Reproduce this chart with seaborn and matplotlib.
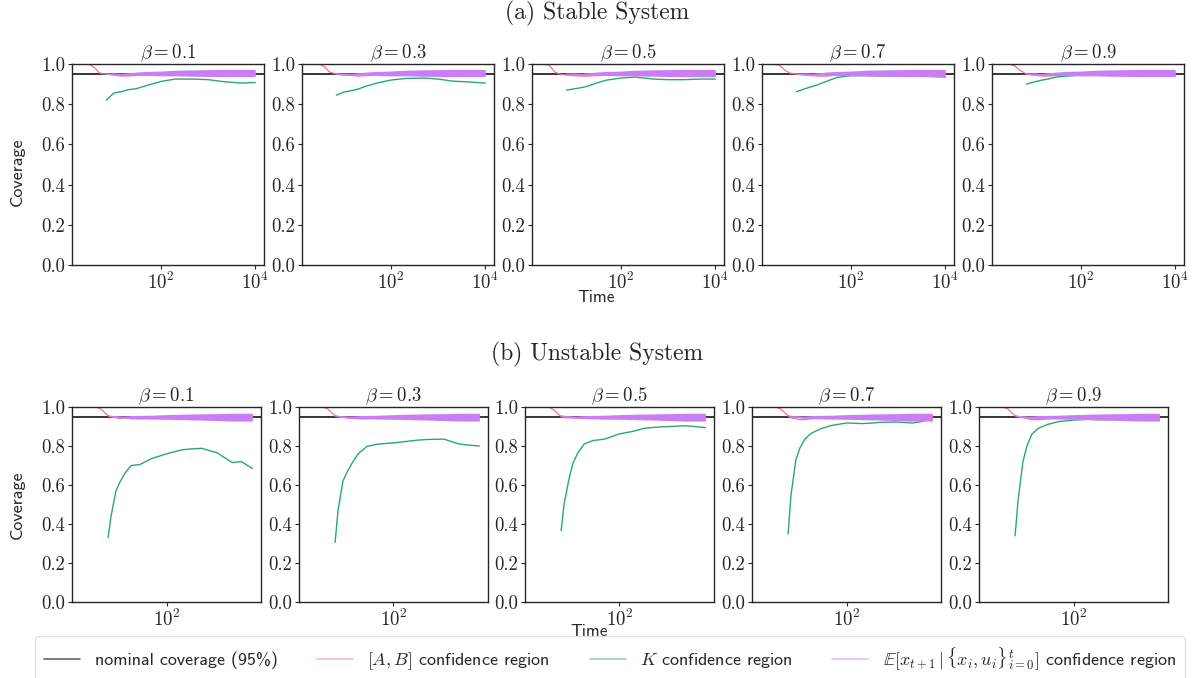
import numpy as np
import pandas as pd
import seaborn as sns
import matplotlib.pyplot as plt
from matplotlib.lines import Line2D
from matplotlib.ticker import NullLocator, FixedLocator

NA = np.nan

# Data

BETAS = [0.1, 0.3, 0.5, 0.7, 0.9]
NOMINAL = 0.95

# stable system, time grid
T_STABLE = [2, 3, 4, 5, 7, 10, 15, 20, 30, 50, 100, 200, 500, 1000, 2000, 5000, 10000]

AB_STABLE = [
    [1.0, 1.0, 0.98, 0.955, 0.95, 0.945, 0.94, 0.94, 0.943, 0.945, 0.948, 0.95, 0.952, 0.952, 0.953, 0.952, 0.952],
    [1.0, 1.0, 0.985, 0.96, 0.95, 0.945, 0.943, 0.94, 0.942, 0.945, 0.948, 0.95, 0.952, 0.952, 0.952, 0.953, 0.952],
    [1.0, 0.995, 0.96, 0.95, 0.945, 0.942, 0.94, 0.94, 0.942, 0.945, 0.948, 0.95, 0.955, 0.955, 0.953, 0.952, 0.952],
    [1.0, 0.995, 0.97, 0.955, 0.95, 0.945, 0.942, 0.94, 0.94, 0.945, 0.948, 0.95, 0.955, 0.955, 0.955, 0.953, 0.952],
    [1.0, 1.0, 0.99, 0.97, 0.95, 0.945, 0.94, 0.94, 0.942, 0.945, 0.948, 0.95, 0.953, 0.955, 0.955, 0.953, 0.952],
]

K_STABLE = [
    [NA, NA, NA, NA, 0.82, 0.855, 0.863, 0.872, 0.877, 0.893, 0.913, 0.925, 0.925, 0.922, 0.913, 0.905, 0.908],
    [NA, NA, NA, NA, 0.845, 0.86, 0.868, 0.875, 0.89, 0.905, 0.92, 0.928, 0.93, 0.925, 0.915, 0.91, 0.905],
    [NA, NA, NA, NA, 0.87, 0.876, 0.883, 0.89, 0.905, 0.92, 0.93, 0.935, 0.925, 0.922, 0.922, 0.925, 0.925],
    [NA, NA, NA, NA, 0.862, 0.875, 0.888, 0.897, 0.913, 0.933, 0.942, 0.942, 0.94, 0.94, 0.94, 0.938, 0.935],
    [NA, NA, NA, NA, 0.9, 0.91, 0.92, 0.925, 0.935, 0.94, 0.945, 0.945, 0.945, 0.945, 0.945, 0.945, 0.945],
]

E_STABLE = [NA, NA, NA, NA, 0.95, 0.95, 0.948, 0.95, 0.952, 0.953, 0.953, 0.955, 0.955, 0.955, 0.955, 0.955, 0.955]
E_STABLE_SPREAD = [0, 0, 0, 0, 0.002, 0.004, 0.005, 0.006, 0.008, 0.01, 0.012, 0.014, 0.016, 0.017, 0.018, 0.018, 0.018]

# unstable system
T_UNSTABLE = [2, 3, 4, 5, 7, 8, 10, 12, 15, 20, 30, 50, 100, 200, 300, 500, 1000, 2000, 3000, 5000]

AB_UNSTABLE = [
    [1.0, 1.0, 1.0, 0.99, 0.955, 0.95, 0.945, 0.94, 0.945, 0.94, 0.94, 0.945, 0.94, 0.94, 0.94, 0.938, 0.937, 0.935, 0.935, 0.935],
    [1.0, 1.0, 1.0, 0.99, 0.955, 0.95, 0.948, 0.945, 0.942, 0.94, 0.94, 0.945, 0.945, 0.945, 0.945, 0.945, 0.945, 0.945, 0.945, 0.945],
    [1.0, 1.0, 1.0, 0.985, 0.95, 0.945, 0.945, 0.945, 0.945, 0.945, 0.945, 0.94, 0.945, 0.945, 0.945, 0.945, 0.945, 0.94, 0.94, 0.94],
    [1.0, 1.0, 1.0, 0.99, 0.955, 0.945, 0.94, 0.935, 0.935, 0.94, 0.945, 0.945, 0.945, 0.945, 0.945, 0.945, 0.945, 0.945, 0.945, 0.945],
    [1.0, 1.0, 1.0, 0.99, 0.955, 0.95, 0.945, 0.94, 0.935, 0.935, 0.94, 0.945, 0.945, 0.945, 0.945, 0.945, 0.945, 0.945, 0.945, 0.945],
]

K_UNSTABLE = [
    [NA, NA, NA, NA, 0.33, 0.44, 0.57, 0.615, 0.66, 0.70, 0.705, 0.735, 0.76, 0.78, 0.785, 0.788, 0.765, 0.715, 0.72, 0.685],
    [NA, NA, NA, NA, 0.306, 0.47, 0.62, 0.665, 0.71, 0.76, 0.798, 0.81, 0.816, 0.825, 0.83, 0.834, 0.835, 0.81, 0.805, 0.80],
    [NA, NA, NA, NA, 0.366, 0.5, 0.63, 0.711, 0.765, 0.81, 0.828, 0.835, 0.862, 0.877, 0.89, 0.896, 0.90, 0.904, 0.90, 0.894],
    [NA, NA, NA, NA, 0.349, 0.55, 0.73, 0.79, 0.835, 0.865, 0.887, 0.905, 0.918, 0.915, 0.917, 0.922, 0.923, 0.918, 0.925, 0.94],
    [NA, NA, NA, NA, 0.34, 0.52, 0.72, 0.80, 0.86, 0.89, 0.91, 0.925, 0.933, 0.937, 0.935, 0.935, 0.935, 0.935, 0.935, 0.935],
]

E_UNSTABLE = [NA, NA, NA, NA, 0.955, 0.952, 0.95, 0.948, 0.947, 0.948, 0.948, 0.948, 0.949, 0.949, 0.949, 0.949, 0.948, 0.948, 0.948, 0.948]
E_UNSTABLE_SPREAD = [0, 0, 0, 0, 0.002, 0.003, 0.004, 0.005, 0.006, 0.008, 0.009, 0.01, 0.012, 0.014, 0.015, 0.016, 0.018, 0.02, 0.02, 0.02]

LABELS = [
    "nominal coverage (95%)",
    r"$[A, B]$ confidence region",
    r"$K$ confidence region",
    r"$\mathbb{E}[x_{t+1}\,|\,\{x_i, u_i\}_{i=0}^{t}]$ confidence region",
]

RED = "#f77189"
GREEN = "#2aa872"
PURPLE = "#c97ef4"

# Style

sns.set_style("ticks")
plt.rcParams["font.family"] = "cmr10"
plt.rcParams["mathtext.fontset"] = "cm"
plt.rcParams["axes.formatter.use_mathtext"] = True
plt.rcParams["axes.unicode_minus"] = False

SANS = "cmss10"
W, H = 1195, 678


def draw_row(axes, t, ab, k, e_mid, e_spread):
    for i, ax in enumerate(axes):
        ax.set_xscale("log")
        df = pd.DataFrame({"t": t, "ab": ab[i], "k": k[i], "e": e_mid})
        lo = np.array(e_mid) - np.array(e_spread)
        hi = np.array(e_mid) + np.array(e_spread)

        ax.axhline(NOMINAL, color="black", lw=1.1, zorder=1)
        sns.lineplot(data=df, x="t", y="ab", color=RED, lw=0.9, estimator=None, ax=ax, zorder=2)
        sns.lineplot(data=df, x="t", y="k", color=GREEN, lw=1.0, estimator=None, ax=ax, zorder=3)
        ax.fill_between(df["t"], lo, hi, color=PURPLE, lw=0, zorder=4)
        sns.lineplot(data=df, x="t", y="e", color=PURPLE, lw=0.9, estimator=None, ax=ax, zorder=4)

        ax.set_ylim(0, 1.0)
        ax.yaxis.set_major_locator(FixedLocator([0, 0.2, 0.4, 0.6, 0.8, 1.0]))
        ax.set_yticklabels(["0.0", "0.2", "0.4", "0.6", "0.8", "1.0"])
        # locator only, so the data limits (with margins) stay untouched
        ax.xaxis.set_major_locator(FixedLocator([1e0, 1e2, 1e4]))
        ax.xaxis.set_minor_locator(NullLocator())
        ax.set_xlabel("")
        ax.set_ylabel("")
        ax.tick_params(labelsize=13.5, length=3, pad=2)
        ax.set_title(rf"$\beta = {BETAS[i]}$", fontsize=13.5, pad=3)
        for s in ax.spines.values():
            s.set_visible(True)
            s.set_linewidth(1.0)


fig = plt.figure(figsize=(W / 100, H / 100), dpi=100)

top_axes = [fig.add_axes([l / W, 1 - 265 / H, 192 / W, 201 / H]) for l in [72, 302, 532, 762, 992]]
bot_axes = [fig.add_axes([l / W, 1 - 602 / H, 189 / W, 195 / H]) for l in [72, 299, 525, 752, 979]]

draw_row(top_axes, T_STABLE, AB_STABLE, K_STABLE, E_STABLE, E_STABLE_SPREAD)
draw_row(bot_axes, T_UNSTABLE, AB_UNSTABLE, K_UNSTABLE, E_UNSTABLE, E_UNSTABLE_SPREAD)

fig.text(0.5, 1 - 13 / H, "(a) Stable System", ha="center", va="center", fontsize=17)
fig.text(0.5, 1 - 354 / H, "(b) Unstable System", ha="center", va="center", fontsize=17)

for x, y in [(596, 297), (589, 631)]:
    fig.text(x / W, 1 - y / H, "Time", family=SANS, fontsize=12.5, ha="center", va="center")
for y in [172, 505]:
    fig.text(17 / W, 1 - y / H, "Coverage", family=SANS, fontsize=13, rotation=90,
             ha="center", va="center")

handles = [
    Line2D([], [], color="black", lw=1.2, alpha=0.6),
    Line2D([], [], color=RED, lw=1.2, alpha=0.5),
    Line2D([], [], color=GREEN, lw=1.2, alpha=0.5),
    Line2D([], [], color=PURPLE, lw=1.2, alpha=0.5),
]
leg = fig.legend(handles, LABELS, loc="center", ncol=4, mode="expand",
                 bbox_to_anchor=(35 / W, 1 / H, 1150 / W, 37 / H),
                 prop={"family": SANS, "size": 13}, frameon=True, fancybox=True,
                 borderaxespad=0, handlelength=2.0, borderpad=0.5)
leg.get_frame().set_edgecolor("#d9d9d9")

fig.savefig("out.png", dpi=100)
